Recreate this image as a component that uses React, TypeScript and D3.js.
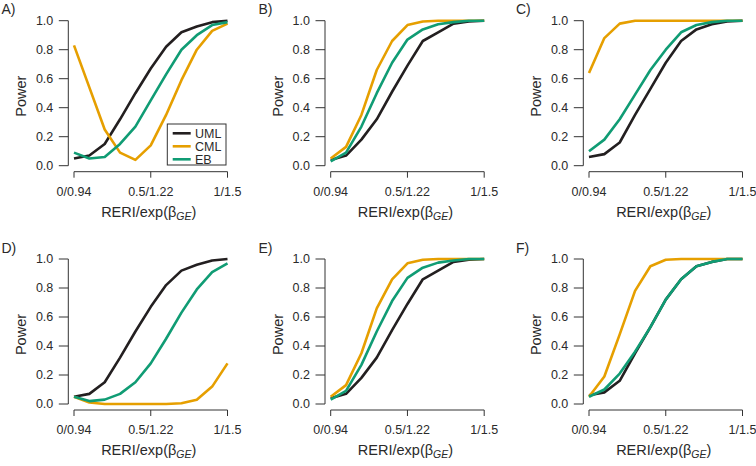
import React from "react";
import * as d3 from "d3";

const xValues = [0, 0.1, 0.2, 0.3, 0.4, 0.5, 0.6, 0.7, 0.8, 0.9, 1.0];
const xTickValues = [0, 0.5, 1];
const xTickLabels = ["0/0.94", "0.5/1.22", "1/1.5"];
const yTickValues = [0, 0.2, 0.4, 0.6, 0.8, 1.0];
const yTickLabels = ["0.0", "0.2", "0.4", "0.6", "0.8", "1.0"];
const panelLabels = ["A)", "B)", "C)", "D)", "E)", "F)"];
const seriesNames = ["UML", "CML", "EB"];
const seriesColors = ["#231f20", "#e69f00", "#109c74"];

// Panel A
const umlA = [0.05, 0.07, 0.15, 0.32, 0.5, 0.67, 0.82, 0.92, 0.96, 0.99, 1.0];
const cmlA = [0.83, 0.54, 0.25, 0.09, 0.04, 0.14, 0.35, 0.59, 0.8, 0.93, 0.98];
const ebA = [0.09, 0.05, 0.06, 0.15, 0.27, 0.45, 0.63, 0.8, 0.9, 0.97, 0.99];
// Panel B
const umlB = [0.04, 0.07, 0.18, 0.32, 0.51, 0.69, 0.86, 0.92, 0.98, 0.995, 1.0];
const cmlB = [0.05, 0.13, 0.35, 0.66, 0.86, 0.97, 0.995, 1.0, 1.0, 1.0, 1.0];
const ebB = [0.03, 0.09, 0.27, 0.5, 0.71, 0.87, 0.94, 0.975, 0.99, 1.0, 1.0];
// Panel C
const umlC = [0.06, 0.08, 0.16, 0.35, 0.53, 0.71, 0.86, 0.94, 0.975, 0.995, 1.0];
const cmlC = [0.64, 0.88, 0.98, 1.0, 1.0, 1.0, 1.0, 1.0, 1.0, 1.0, 1.0];
const ebC = [0.1, 0.18, 0.32, 0.49, 0.66, 0.8, 0.92, 0.97, 0.99, 1.0, 1.0];
// Panel D
const umlD = [0.05, 0.07, 0.15, 0.32, 0.5, 0.67, 0.82, 0.92, 0.96, 0.99, 1.0];
const cmlD = [0.05, 0.01, 0.0, 0.0, 0.0, 0.0, 0.0, 0.005, 0.03, 0.12, 0.28];
const ebD = [0.05, 0.02, 0.03, 0.07, 0.15, 0.28, 0.45, 0.63, 0.79, 0.91, 0.97];
// Panel E
const umlE = [0.04, 0.07, 0.18, 0.32, 0.51, 0.69, 0.86, 0.92, 0.98, 0.995, 1.0];
const cmlE = [0.05, 0.13, 0.35, 0.66, 0.86, 0.97, 0.995, 1.0, 1.0, 1.0, 1.0];
const ebE = [0.03, 0.09, 0.27, 0.5, 0.71, 0.87, 0.94, 0.975, 0.99, 1.0, 1.0];
// Panel F
const umlF = [0.06, 0.08, 0.16, 0.35, 0.53, 0.72, 0.86, 0.95, 0.98, 1.0, 1.0];
const cmlF = [0.05, 0.19, 0.48, 0.78, 0.95, 0.995, 1.0, 1.0, 1.0, 1.0, 1.0];
const ebF = [0.05, 0.1, 0.21, 0.36, 0.53, 0.72, 0.86, 0.95, 0.98, 1.0, 1.0];

const panelSeries = [
  [umlA, cmlA, ebA],
  [umlB, cmlB, ebB],
  [umlC, cmlC, ebC],
  [umlD, cmlD, ebD],
  [umlE, cmlE, ebE],
  [umlF, cmlF, ebF],
];

const W = 756;
const H = 466;
const FONT = "'Liberation Sans', Arial, Helvetica, sans-serif";
const AXIS = "#333";
const TEXT = "#2a2a2a";

const colX0 = [74, 330.7, 589];
const colLabelX = [1.5, 258.5, 516];
const rowTop = [20.7, 259];
const rowLabelY = [14, 253];
const plotW = 153.5;
const plotH = 145;

function Panel({ idx }: { idx: number }) {
  const col = idx % 3;
  const row = Math.floor(idx / 3);
  const x0 = colX0[col];
  const top = rowTop[row];
  const x = d3.scaleLinear().domain([0, 1]).range([x0, x0 + plotW]);
  const y = d3.scaleLinear().domain([0, 1]).range([top + plotH, top]);
  const axisX = x0 - 5.7;
  const axisY = top + plotH + 6;
  const line = d3
    .line<number>()
    .x((_, i) => x(xValues[i]))
    .y((d) => y(d));
  const series = panelSeries[idx];
  const midX = (x(0) + x(1)) / 2 - 2;
  const midY = (y(0) + y(1)) / 2 + 3;
  return (
    <g>
      <text x={colLabelX[col]} y={rowLabelY[row]} fontSize={14} fill={TEXT} fontFamily={FONT}>
        {panelLabels[idx]}
      </text>
      {/* y axis */}
      <line x1={axisX} x2={axisX} y1={y(0)} y2={y(1)} stroke={AXIS} strokeWidth={1} />
      {yTickValues.map((v, i) => (
        <g key={"y" + i}>
          <line x1={axisX - 9.5} x2={axisX} y1={y(v)} y2={y(v)} stroke={AXIS} strokeWidth={1} />
          <text
            x={axisX - 15}
            y={y(v)}
            dy="0.35em"
            textAnchor="end"
            fontSize={12.5}
            fill={TEXT}
            fontFamily={FONT}
          >
            {yTickLabels[i]}
          </text>
        </g>
      ))}
      {/* x axis */}
      <line x1={x(0)} x2={x(1)} y1={axisY} y2={axisY} stroke={AXIS} strokeWidth={1} />
      {xTickValues.map((v, i) => (
        <g key={"x" + i}>
          <line x1={x(v)} x2={x(v)} y1={axisY} y2={axisY + 6} stroke={AXIS} strokeWidth={1} />
          <text
            x={x(v)}
            y={axisY + 24}
            textAnchor="middle"
            fontSize={12.5}
            fill={TEXT}
            fontFamily={FONT}
          >
            {xTickLabels[i]}
          </text>
        </g>
      ))}
      <text
        x={midX}
        y={axisY + 45}
        textAnchor="middle"
        fontSize={14.5}
        fill={TEXT}
        fontFamily={FONT}
      >
        RERI/exp(β
        <tspan fontStyle="italic" fontSize={10.5} dy={3}>
          GE
        </tspan>
        <tspan dy={-3}>)</tspan>
      </text>
      <text
        transform={`translate(${axisX - 42},${midY}) rotate(-90)`}
        textAnchor="middle"
        fontSize={14.5}
        fill={TEXT}
        fontFamily={FONT}
      >
        Power
      </text>
      {series.map((s, i) => (
        <path
          key={"s" + i}
          d={line(s) || ""}
          fill="none"
          stroke={seriesColors[i]}
          strokeWidth={2.6}
          strokeLinejoin="round"
        />
      ))}
      {idx === 0 && (
        <g>
          <rect
            x={x0 + 93.3}
            y={top + 103.3}
            width={58.7}
            height={41}
            fill="white"
            stroke={AXIS}
            strokeWidth={1}
          />
          {seriesNames.map((n, i) => (
            <g key={"l" + i}>
              <line
                x1={x0 + 98.7}
                x2={x0 + 116.7}
                y1={top + 112.6 + i * 13}
                y2={top + 112.6 + i * 13}
                stroke={seriesColors[i]}
                strokeWidth={2.6}
              />
              <text
                x={x0 + 121}
                y={top + 112.6 + i * 13}
                dy="0.35em"
                fontSize={12.5}
                fill={TEXT}
                fontFamily={FONT}
              >
                {n}
              </text>
            </g>
          ))}
        </g>
      )}
    </g>
  );
}

export default function App() {
  return (
    <svg
      width={W}
      height={H}
      viewBox={`0 0 ${W} ${H}`}
      style={{ position: "absolute", left: 0, top: 0, display: "block", background: "white" }}
    >
      <rect x={0} y={0} width={W} height={H} fill="white" />
      {panelLabels.map((_, i) => (
        <Panel key={i} idx={i} />
      ))}
    </svg>
  );
}
